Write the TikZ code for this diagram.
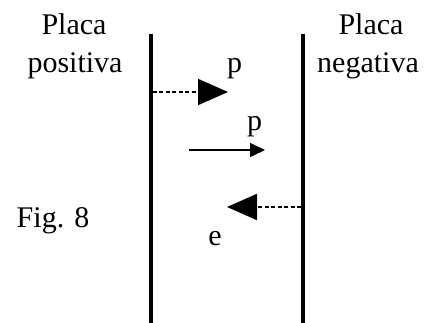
\documentclass[tikz,border=0pt]{standalone}
\usepackage{fontspec}
\setmainfont{Liberation Serif}
\usetikzlibrary{arrows.meta}
\begin{document}
\begin{tikzpicture}[x=1pt,y=-1pt,
  lbl/.style={font=\fontsize{30}{37.5}\selectfont, inner sep=0pt, anchor=base},
  plate/.style={line width=4pt},
  dasharrow/.style={line width=2pt, dash pattern=on 4pt off 2.5pt, -{Triangle[length=30pt,width=26pt]}},
  solidarrow/.style={line width=1.6pt, -{Triangle[length=15pt,width=14pt]}}]
\useasboundingbox (0,0) rectangle (439,323);
% plates
\coordinate (lt) at (150.5,34);
\coordinate (lb) at (150.5,323);
\coordinate (rt) at (303,34);
\coordinate (rb) at (303,323);
\draw[plate] (lt) -- (lb);
\draw[plate] (rt) -- (rb);
% labels
\node[lbl] (pl1) at (74,35) {Placa};
\node[lbl] (pl2) at (75,73) {positiva};
\node[lbl] (nl1) at (371,35) {Placa};
\node[lbl] (nl2) at (368,73) {negativa};
\node[lbl] (fig) at (53,227) {Fig. 8};
% arrows
\coordinate (a1s) at (152.5,92);
\coordinate (a1e) at (228,92);
\draw[dasharrow] (a1s) -- (a1e);
\node[lbl] (p1) at (234.5,73) {p};
\coordinate (a2s) at (189,150);
\coordinate (a2e) at (265,150);
\draw[solidarrow] (a2s) -- (a2e);
\node[lbl] (p2) at (254.5,130.5) {p};
\coordinate (a3s) at (301,207);
\coordinate (a3e) at (227,207);
\draw[dasharrow] (a3s) -- (a3e);
\node[lbl] (e) at (215,246) {e};
\end{tikzpicture}
\end{document}
